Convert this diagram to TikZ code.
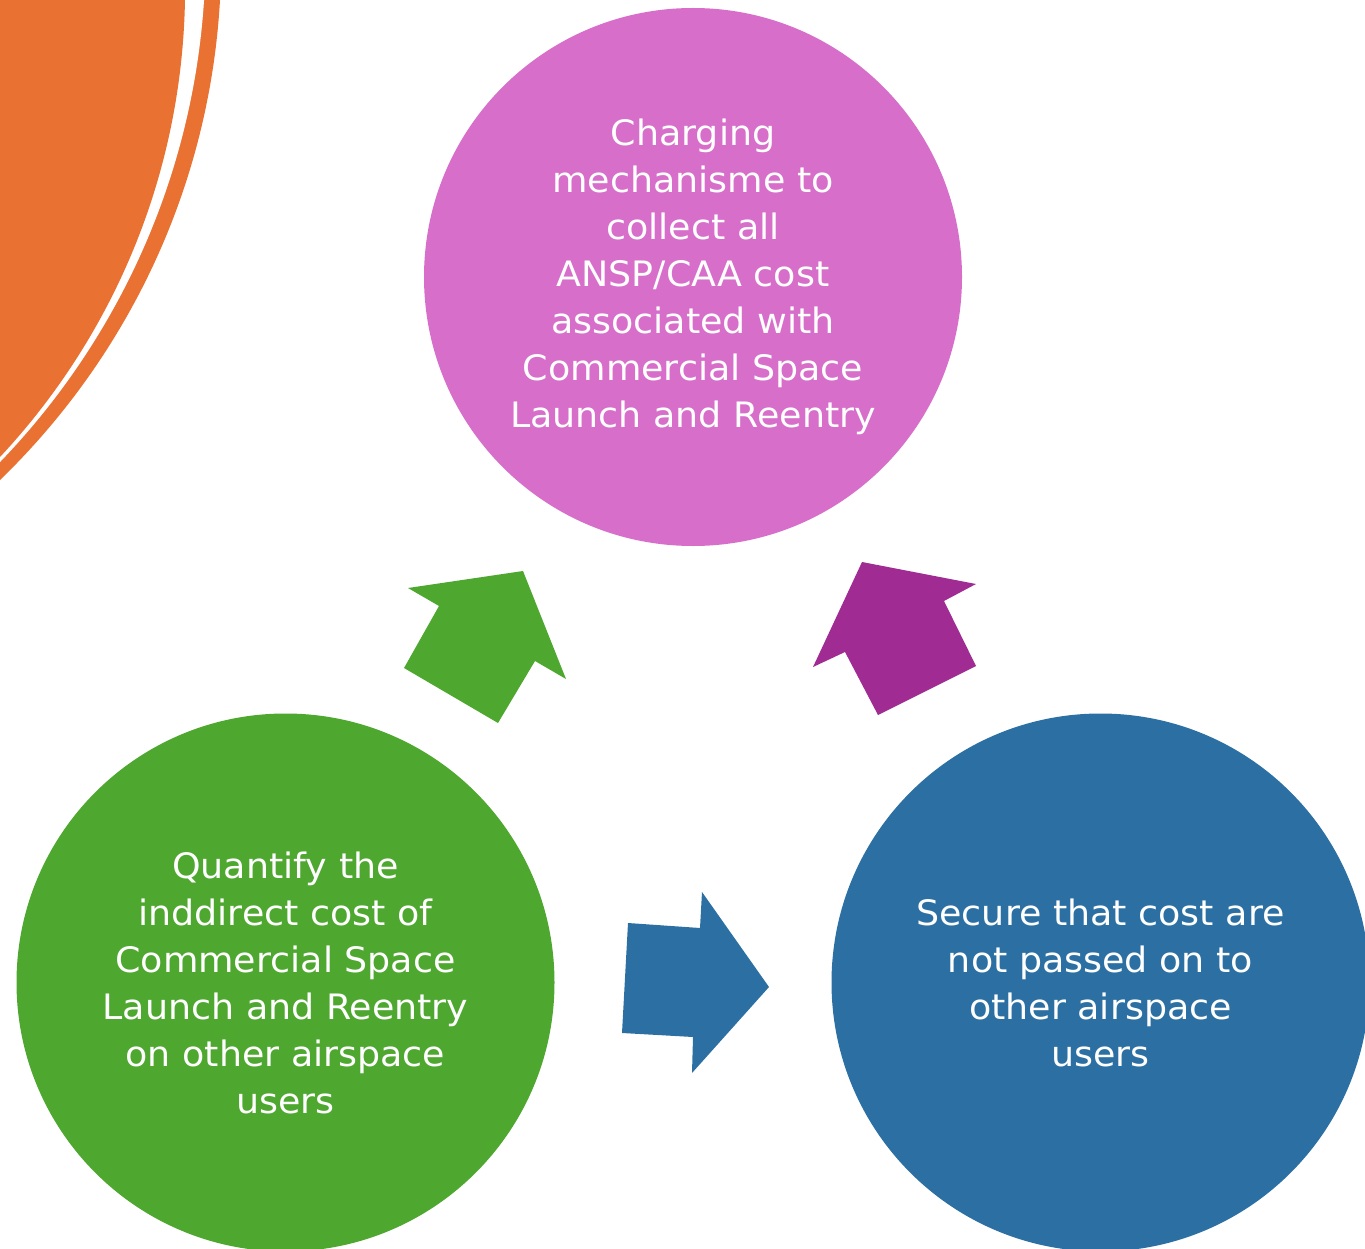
\documentclass[tikz,border=0pt]{standalone}
\usepackage{fontspec}
\setmainfont[FakeStretch=1.04]{DejaVu Sans}
\definecolor{orangeaccent}{HTML}{E97132}
\definecolor{pinkbubble}{HTML}{D66ECA}
\definecolor{greenbubble}{HTML}{4EA72E}
\definecolor{bluebubble}{HTML}{2C70A3}
\definecolor{purplearrow}{HTML}{A02B93}
\tikzset{bubble/.style={circle, minimum size=538pt, inner sep=0pt, text=white, align=center,
    font=\fontsize{35}{47}\selectfont}}

\begin{document}
\begin{tikzpicture}[x=1pt,y=-1pt]
\useasboundingbox (0,0) rectangle (1365,1249);
\clip (0,0) rectangle (1365,1249);
% corner decoration
\fill[orangeaccent] (-505.1,-41.9) circle (726.3);
\fill[white] (-530.1,-48.1) circle (735.7);
\fill[orangeaccent] (-503.4,-12.7) circle (688.5);
% the three steps
\node[bubble, fill=pinkbubble] (charge) at (693,277)
  {Charging\\mechanisme to\\collect all\\ANSP/CAA cost\\associated with\\Commercial Space\\Launch and Reentry};
\node[bubble, fill=greenbubble] (quantify) at (285.5,982.5)
  {Quantify the\\inddirect cost of\\Commercial Space\\Launch and Reentry\\on other airspace\\users};
\node[bubble, fill=bluebubble] (secure) at (1100.5,982.5)
  {Secure that cost are\\not passed on to\\other airspace\\users};
% block arrows
\fill[greenbubble] (408,588) -- (523,571) -- (566,679) -- (535,661) -- (498,723) -- (404,668) -- (439,606) -- cycle;
\fill[purplearrow] (862,562) -- (976,584) -- (944,601) -- (976,666) -- (878,715) -- (845,652) -- (813,667) -- cycle;
\fill[bluebubble] (628,923) -- (700,928) -- (702,892) -- (769,987) -- (692,1073) -- (693,1037) -- (622,1033) -- cycle;
\end{tikzpicture}
\end{document}
